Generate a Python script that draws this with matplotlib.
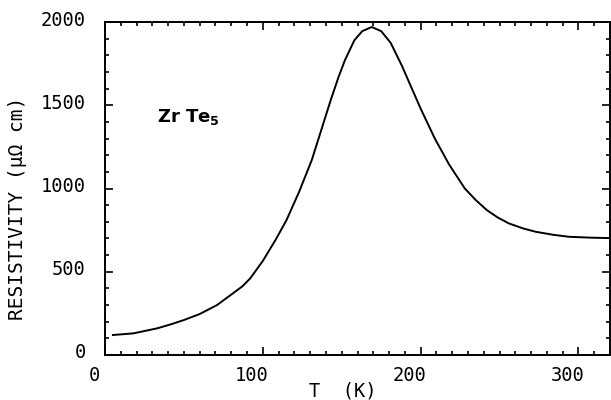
import numpy as np
import matplotlib
matplotlib.use('Agg')
import matplotlib.pyplot as plt
from matplotlib.transforms import ScaledTranslation

### Resistivity of ZrTe5
temperature = [5, 18, 33, 42, 50, 60, 71, 81, 87, 92, 100, 108, 115, 123, 131, 137, 143, 148, 152,
               158, 163, 169, 175, 181, 188, 194, 200, 209, 218, 228, 235, 242, 249, 256, 265,
               273, 284, 294, 307, 320]
resistivity = [120, 130, 160, 185, 210, 246, 300, 370, 412, 460, 565, 690, 810, 980, 1170, 1350,
               1530, 1670, 1770, 1890, 1945, 1970, 1945, 1875, 1740, 1610, 1480, 1300, 1145,
               1000, 930, 870, 825, 790, 760, 740, 722, 710, 705, 702]

x_ticks = [0, 100, 200, 300]
y_ticks = [0, 500, 1000, 1500, 2000]

plt.rcParams['font.family'] = ['DejaVu Sans Mono', 'DejaVu Sans']

fig = plt.figure(figsize=(6.11, 4.0), dpi=100)
ax = fig.add_axes([105/611, 45/400, 505/611, 333/400])

ax.plot(temperature, resistivity, color='black', lw=1.4, solid_joinstyle='round')

ax.set_xlim(0, 320)
ax.set_ylim(0, 2000)
ax.set_xticks(x_ticks)
ax.set_xticks(np.arange(0, 321, 10), minor=True)
ax.set_yticks(y_ticks)
ax.set_yticks(np.arange(0, 2001, 100), minor=True)
ax.tick_params(which='both', direction='in', top=True, right=True, width=1.2, labelsize=13.5)
ax.tick_params(which='major', length=6)
ax.tick_params(which='minor', length=3)
ax.tick_params(axis='x', pad=8)
ax.tick_params(axis='y', pad=14)
for s in ax.spines.values():
    s.set_linewidth(1.4)

# old plotter put the labels a little off the ticks
for lab in ax.get_xticklabels():
    lab.set_transform(lab.get_transform() + ScaledTranslation(-0.11, 0, fig.dpi_scale_trans))
for lab in ax.get_yticklabels():
    lab.set_transform(lab.get_transform() + ScaledTranslation(0, 0.04, fig.dpi_scale_trans))

ax.set_xlabel('T  (K)', fontsize=13.5)
ax.xaxis.set_label_coords(0.47, -0.08)
ax.set_ylabel('RESISTIVITY (\u03bc\u03a9 cm)', fontsize=14)
ax.yaxis.set_label_coords(-0.155, 0.44)

ax.text(33, 1400, r'Zr Te$_\mathbf{5}$', fontsize=13, fontweight='bold', family='DejaVu Sans')

fig.savefig('out.png', dpi=100)
